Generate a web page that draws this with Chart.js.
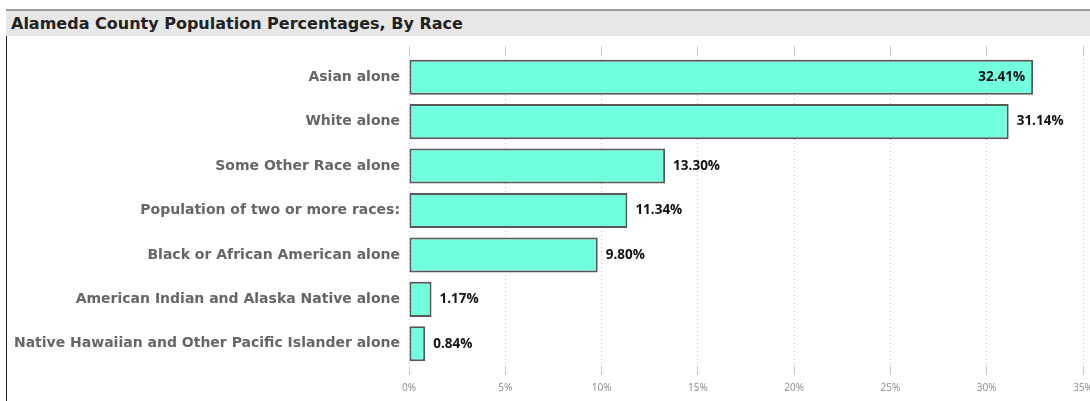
<!DOCTYPE html>
<html>
<head>
<meta charset="utf-8">
<script src="https://cdn.jsdelivr.net/npm/chart.js@4"></script>
<style>
  html, body { margin: 0; padding: 0; background: #fff; overflow: hidden; }
  body { width: 1090px; height: 401px; position: relative; }
  #titlebar {
    position: absolute; left: 6px; top: 9px; width: 1084px; height: 25px;
    border-top: 2px solid #9c9c9c; background: #e7e7e7;
    font-family: "DejaVu Sans", Verdana, sans-serif; font-weight: bold;
    font-size: 16px; color: #222; line-height: 25px; padding-left: 5px;
    box-sizing: content-box;
  }
  #leftline { position: absolute; left: 6px; top: 36px; width: 1px; height: 365px; background: #222; }
  #wrap { position: absolute; left: 0; top: 0; width: 1110px; height: 401px; }
</style>
</head>
<body>
<div id="titlebar">Alameda County Population Percentages, By Race</div>
<div id="wrap"><canvas id="myChart"></canvas></div>
<div id="leftline"></div>
<script>
// categories and values (percent of population)
const races = [
  "Asian alone",
  "White alone",
  "Some Other Race alone",
  "Population of two or more races:",
  "Black or African American alone",
  "American Indian and Alaska Native alone",
  "Native Hawaiian and Other Pacific Islander alone"
];
const percents = [32.41, 31.14, 13.30, 11.34, 9.80, 1.17, 0.84];
const tickValues = [0, 5, 10, 15, 20, 25, 30, 35];

// draws the value labels at the end of each bar
const valueLabels = {
  id: 'valueLabels',
  afterDatasetsDraw(chart) {
    const ctx = chart.ctx;
    const area = chart.chartArea;
    const meta = chart.getDatasetMeta(0);
    ctx.save();
    ctx.font = 'bold 13.5px "Open Sans", sans-serif';
    ctx.fillStyle = '#111';
    ctx.textBaseline = 'middle';
    meta.data.forEach((bar, i) => {
      const txt = percents[i].toFixed(2) + '%';
      const w = ctx.measureText(txt).width;
      if (bar.x + 8 + w > area.right - 4) {
        ctx.textAlign = 'right';
        ctx.fillText(txt, bar.x - 8, bar.y);
      } else {
        ctx.textAlign = 'left';
        ctx.fillText(txt, bar.x + 8, bar.y);
      }
    });
    ctx.restore();
  }
};

const ctx = document.getElementById('myChart');
const myChart = new Chart(ctx, {
  type: 'bar',
  data: {
    labels: races,
    datasets: [{
      data: percents,
      backgroundColor: '#72FFE0',
      borderColor: '#585858',
      borderWidth: 2,
      borderSkipped: false,
      categoryPercentage: 1,
      barPercentage: 0.79
    }]
  },
  options: {
    indexAxis: 'y',
    responsive: true,
    maintainAspectRatio: false,
    animation: false,
    layout: { padding: { top: 46, right: 27, left: 0, bottom: 0 } },
    plugins: {
      legend: { display: false },
      tooltip: { enabled: false }
    },
    scales: {
      x: {
        min: 0,
        max: 35,
        afterBuildTicks(scale) { scale.ticks = tickValues.map(v => ({ value: v })); },
        afterFit(scale) { scale.height = 35; },
        border: { display: false, dash: [1, 3] },
        grid: { color: '#c8c8c8', tickLength: 9 },
        ticks: {
          padding: 7,
          color: '#8a8a8a',
          font: { family: '"Open Sans", sans-serif', size: 10 },
          callback: v => v + '%'
        }
      },
      x2: {
        position: 'top',
        axis: 'x',
        min: 0,
        max: 35,
        afterBuildTicks(scale) { scale.ticks = tickValues.map(v => ({ value: v })); },
        afterFit(scale) { scale.height = 9; },
        border: { display: false, dash: [1, 3] },
        grid: { color: '#c8c8c8', tickLength: 9, drawOnChartArea: false },
        ticks: { display: false }
      },
      y: {
        afterFit(scale) { scale.width = 409; },
        border: { display: false },
        grid: { display: false },
        ticks: {
          padding: 1,
          color: '#666',
          font: { family: '"DejaVu Sans", Verdana, sans-serif', size: 14, weight: 'bold' }
        }
      }
    }
  },
  plugins: [valueLabels]
});
</script>
</body>
</html>
